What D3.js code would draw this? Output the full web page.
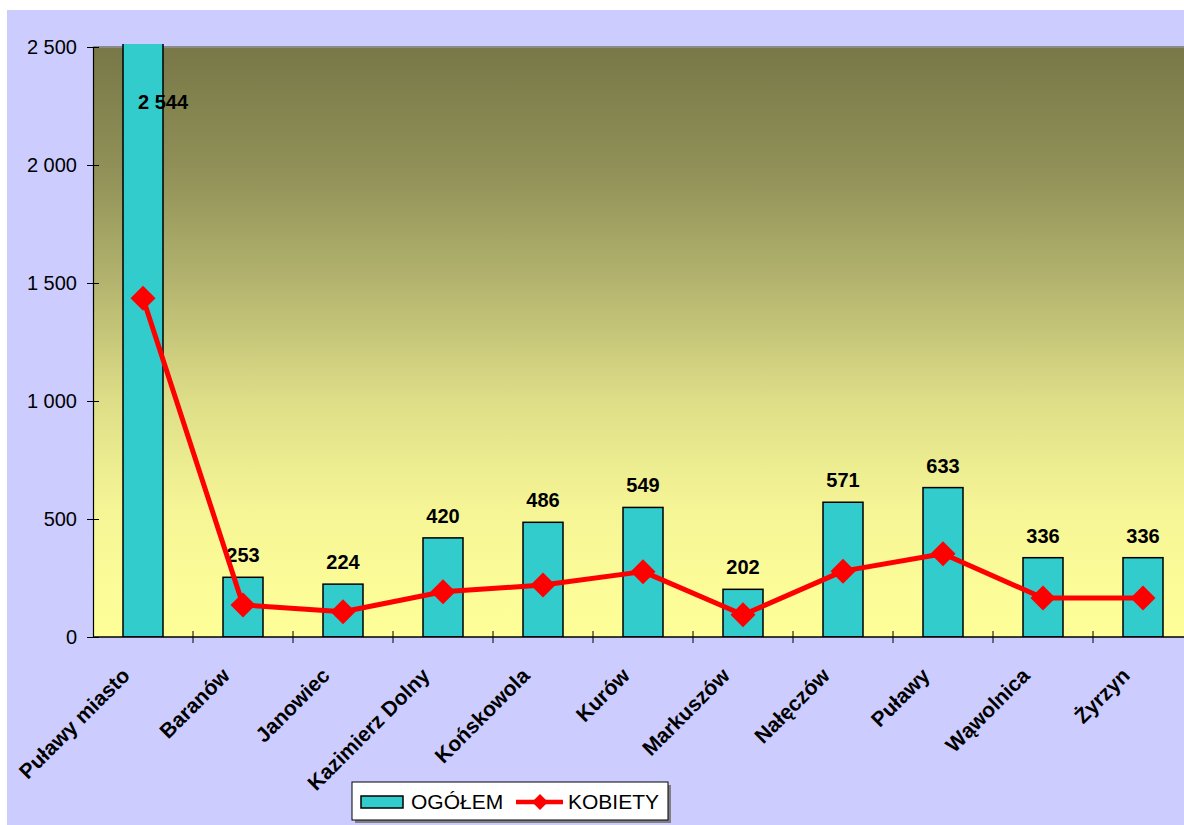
<!DOCTYPE html>
<html>
<head>
<meta charset="utf-8">
<script src="https://cdn.jsdelivr.net/npm/d3@7"></script>
<style>
  html, body { margin: 0; padding: 0; background: #fff; }
  svg { display: block; }
  text { font-family: Arial, "Liberation Sans", sans-serif; }
</style>
</head>
<body>
<svg id="chart" width="1184" height="825"></svg>
<script>
const categories = ["Puławy miasto", "Baranów", "Janowiec", "Kazimierz Dolny", "Końskowola", "Kurów", "Markuszów", "Nałęczów", "Puławy", "Wąwolnica", "Żyrzyn"];
const ogolem = [2544, 253, 224, 420, 486, 549, 202, 571, 633, 336, 336];
const kobiety = [1435, 136, 107, 192, 220, 277, 94, 279, 353, 165, 165];
const yTicks = [0, 500, 1000, 1500, 2000, 2500];
const seriesNames = ["OGÓŁEM", "KOBIETY"];

const svg = d3.select("#chart");
const W = 1184, H = 825;
const plot = { left: 93, top: 47, right: 1193, bottom: 637 };

// background
svg.append("rect").attr("x", 0).attr("y", 0).attr("width", W).attr("height", H).attr("fill", "#ffffff");
svg.append("rect").attr("x", 7).attr("y", 10).attr("width", W - 7).attr("height", H - 10).attr("fill", "#CCCCFF");

const defs = svg.append("defs");
const grad = defs.append("linearGradient").attr("id", "plotGrad").attr("x1", 0).attr("y1", 0).attr("x2", 0).attr("y2", 1);
[[0, "#787848"], [0.2, "#8f8f57"], [0.4, "#b4b46f"], [0.6, "#dede88"], [0.78, "#f5f596"], [1, "#ffff99"]]
  .forEach(([o, c]) => grad.append("stop").attr("offset", o).attr("stop-color", c));

defs.append("clipPath").attr("id", "barClip")
  .append("rect").attr("x", plot.left).attr("y", plot.top - 3)
  .attr("width", plot.right - plot.left).attr("height", plot.bottom - plot.top + 3);

svg.append("rect").attr("x", plot.left).attr("y", plot.top)
  .attr("width", plot.right - plot.left).attr("height", plot.bottom - plot.top)
  .attr("fill", "url(#plotGrad)");
svg.append("line").attr("x1", plot.left).attr("x2", plot.right)
  .attr("y1", plot.top).attr("y2", plot.top).attr("stroke", "#8a8a8a").attr("stroke-width", 2);

const x = d3.scaleBand().domain(categories).range([plot.left, plot.right]).paddingInner(0).paddingOuter(0);
const y = d3.scaleLinear().domain([0, 2500]).range([plot.bottom, plot.top]);
const barW = 40;

// bars
svg.append("g").attr("clip-path", "url(#barClip)")
  .selectAll("rect").data(categories).join("rect")
  .attr("x", (d) => x(d) + x.bandwidth() / 2 - barW / 2)
  .attr("y", (d, i) => y(ogolem[i]))
  .attr("width", barW)
  .attr("height", (d, i) => y(0) - y(ogolem[i]))
  .attr("fill", "#33CCCC").attr("stroke", "#000").attr("stroke-width", 1.5);

// y axis
const yAxis = d3.axisLeft(y).tickValues(yTicks).tickSize(6).tickPadding(10)
  .tickFormat((d) => d3.format(",")(d).replace(/,/g, " "));
const gy = svg.append("g").attr("transform", `translate(${plot.left},0)`).call(yAxis);
gy.select(".domain").attr("stroke", "#000").attr("stroke-width", 1.2);
gy.selectAll(".tick line").attr("stroke", "#000").attr("x1", -6).attr("x2", 6);
gy.selectAll(".tick text").attr("font-size", 20).attr("fill", "#000").attr("x", -16);

// x axis
const gx = svg.append("g").attr("transform", `translate(0,${plot.bottom})`);
gx.append("line").attr("x1", plot.left).attr("x2", plot.right).attr("stroke", "#000").attr("stroke-width", 1.5);
gx.selectAll("line.tk").data(categories.slice(1).concat(["_end"])).join("line").attr("class", "tk")
  .attr("x1", (d, i) => plot.left + x.bandwidth() * (i + 1))
  .attr("x2", (d, i) => plot.left + x.bandwidth() * (i + 1))
  .attr("y1", -6).attr("y2", 6).attr("stroke", "#000");
gx.selectAll("text").data(categories).join("text")
  .attr("transform", (d) => `translate(${x(d) + x.bandwidth() / 2 - 12},${40}) rotate(-45)`)
  .attr("text-anchor", "end")
  .attr("font-size", 21).attr("font-weight", "bold").attr("fill", "#000")
  .text((d) => d);

// data labels
svg.append("g").selectAll("text").data(categories).join("text")
  .attr("x", (d, i) => x(d) + x.bandwidth() / 2 + (y(ogolem[i]) - 15 < plot.top + 62 ? 20 : 0))
  .attr("y", (d, i) => Math.max(y(ogolem[i]) - 15, plot.top + 62))
  .attr("text-anchor", "middle")
  .attr("font-size", 20).attr("font-weight", "bold").attr("fill", "#000")
  .text((d, i) => d3.format(",")(ogolem[i]).replace(/,/g, " "));

// line
const line = d3.line().x((d, i) => x(categories[i]) + x.bandwidth() / 2).y((d) => y(d));
svg.append("path").datum(kobiety).attr("d", line)
  .attr("fill", "none").attr("stroke", "#FF0000").attr("stroke-width", 5).attr("stroke-linejoin", "round");
const diamond = (cx, cy, r) => `M${cx},${cy - r}L${cx + r},${cy}L${cx},${cy + r}L${cx - r},${cy}Z`;
svg.append("g").selectAll("path").data(kobiety).join("path")
  .attr("d", (d, i) => diamond(x(categories[i]) + x.bandwidth() / 2, y(d), 12.5))
  .attr("fill", "#FF0000");

// legend
const lg = svg.append("g");
lg.append("rect").attr("x", 355).attr("y", 785).attr("width", 316).attr("height", 38).attr("fill", "#808080");
lg.append("rect").attr("x", 352).attr("y", 782).attr("width", 316).attr("height", 38)
  .attr("fill", "#fff").attr("stroke", "#000").attr("stroke-width", 1);
lg.append("rect").attr("x", 361).attr("y", 796).attr("width", 42).attr("height", 12)
  .attr("fill", "#33CCCC").attr("stroke", "#000").attr("stroke-width", 1.5);
lg.append("text").attr("x", 411).attr("y", 809).attr("font-size", 21).attr("fill", "#000").text(seriesNames[0]);
lg.append("line").attr("x1", 516).attr("x2", 563).attr("y1", 802).attr("y2", 802)
  .attr("stroke", "#FF0000").attr("stroke-width", 4.5);
lg.append("path").attr("d", diamond(540, 802, 8)).attr("fill", "#FF0000");
lg.append("text").attr("x", 568).attr("y", 809).attr("font-size", 21).attr("fill", "#000").text(seriesNames[1]);
</script>
</body>
</html>
